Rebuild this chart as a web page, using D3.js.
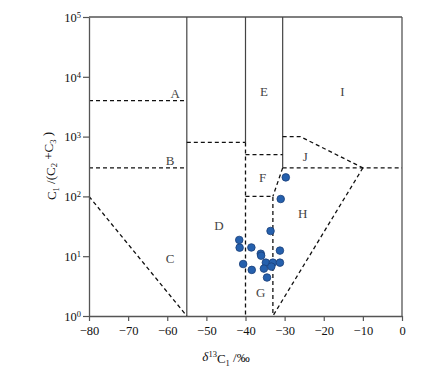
<!DOCTYPE html>
<html><head><meta charset="utf-8">
<script src="https://cdn.jsdelivr.net/npm/d3@7"></script>
<style>body{margin:0;background:#fff}svg{display:block}</style>
</head><body>
<svg id="c" width="425" height="372"></svg>
<script>
const xTicks = [-80,-70,-60,-50,-40,-30,-20,-10,0];
const yExps = [0,1,2,3,4,5];
const pointsX = [-29.7,-31.0,-33.6,-41.6,-41.5,-38.5,-36.1,-36.0,-31.2,-40.6,-38.4,-34.8,-33.0,-31.2,-35.3,-33.4,-34.5];
const pointsY = [208,90.5,26.4,18.7,13.9,14.0,11.0,10.2,12.4,7.4,5.9,7.8,7.8,7.8,6.2,6.7,4.4];
const solidLines = [
  [[-55,1e5],[-55,1]],
  [[-40,1e5],[-40,800]],
  [[-30.5,1e5],[-30.5,300]]
];
const dashedLines = [
  [[-80,4000],[-55,4000]],
  [[-80,300],[-55,300]],
  [[-80,100],[-55,1]],
  [[-55,800],[-40,800]],
  [[-40,800],[-40,1]],
  [[-40,500],[-30.5,500]],
  [[-40,100],[-33,100],[-33,1]],
  [[-30.5,300],[-33,100]],
  [[-30.5,1000],[-26,1000],[-10,300]],
  [[-30.5,300],[0,300]],
  [[-10,300],[-33,1]]
];
const regionNames = ["A","B","C","D","E","F","G","H","I","J"];
const regionX = [-58,-59.3,-59.3,-46.8,-35.3,-35.6,-36.1,-25.4,-15.2,-24.7];
const regionY = [5360,406,9.3,33,5790,211,2.43,52.7,5790,461];

const svg = d3.select("#c");
const L=89,R=402,T=17,B=316;
const x = d3.scaleLinear().domain([-80,0]).range([L,R]);
const y = d3.scaleLog().domain([1,1e5]).range([B,T]);
const axisColor="#555";
const serif="'Liberation Serif','Times New Roman',serif";

// frame top/right
svg.append("line").attr("x1",L).attr("x2",R).attr("y1",T).attr("y2",T).attr("stroke",axisColor).attr("stroke-width",1.3);
svg.append("line").attr("x1",R).attr("x2",R).attr("y1",T).attr("y2",B).attr("stroke",axisColor).attr("stroke-width",1.3);

const line = d3.line().x(d=>x(d[0])).y(d=>y(d[1]));
svg.append("g").selectAll("path").data(solidLines).join("path")
  .attr("d",line).attr("fill","none").attr("stroke","#444").attr("stroke-width",1.2);
svg.append("g").selectAll("path").data(dashedLines).join("path")
  .attr("d",line).attr("fill","none").attr("stroke","#111").attr("stroke-width",1.3)
  .attr("stroke-dasharray","4,3");

// axes
const xAxis = svg.append("g").attr("transform",`translate(0,${B})`)
  .call(d3.axisBottom(x).tickValues(xTicks).tickSize(5).tickSizeOuter(0).tickFormat(d=>d===0?"0":"\u2212"+Math.abs(d)));
xAxis.select(".domain").attr("stroke",axisColor).attr("stroke-width",1.3);
xAxis.selectAll(".tick line").attr("stroke",axisColor).attr("stroke-width",1.2);
xAxis.selectAll(".tick text").attr("font-family",serif).attr("font-size",12.5).attr("fill","#111").attr("dy","0.9em");

const yAxis = svg.append("g").attr("transform",`translate(${L},0)`)
  .call(d3.axisLeft(y).tickValues(yExps.map(e=>Math.pow(10,e))).tickSize(6).tickSizeOuter(0).tickFormat(""));
yAxis.select(".domain").attr("stroke",axisColor).attr("stroke-width",1.3);
yAxis.selectAll(".tick line").attr("stroke",axisColor).attr("stroke-width",1.2);
yAxis.selectAll(".tick").each(function(d,i){
  const t=d3.select(this).append("text").attr("x",-8).attr("dy","0.35em")
    .attr("text-anchor","end").attr("font-family",serif).attr("font-size",12.5).attr("fill","#111");
  t.append("tspan").text("10");
  t.append("tspan").attr("dy","-0.45em").attr("font-size",8.5).text(yExps[i]);
});

// region labels
svg.append("g").selectAll("text").data(regionNames).join("text")
  .attr("x",(d,i)=>x(regionX[i])).attr("y",(d,i)=>y(regionY[i])).attr("dy","0.35em")
  .attr("text-anchor","middle").attr("font-family",serif).attr("font-size",13).attr("fill","#444")
  .text(d=>d);

// points
svg.append("g").selectAll("circle").data(pointsX).join("circle")
  .attr("cx",d=>x(d)).attr("cy",(d,i)=>y(pointsY[i])).attr("r",3.8)
  .attr("fill","#2560ad").attr("stroke","#1b3f78").attr("stroke-width",0.8);

// x label
const xl = svg.append("text").attr("x",226).attr("y",361).attr("text-anchor","middle")
  .attr("font-family",serif).attr("font-size",13).attr("fill","#111");
xl.append("tspan").attr("font-style","italic").text("\u03b4");
xl.append("tspan").attr("dy","-0.45em").attr("font-size",8.5).text("13");
xl.append("tspan").attr("dy","0.45em").text("C");
xl.append("tspan").attr("dy","0.3em").attr("font-size",8.5).text("1");
xl.append("tspan").attr("dy","-0.3em").text(" /\u2030");

// y label
const yl = svg.append("text").attr("transform","translate(56,166) rotate(-90)").attr("text-anchor","middle")
  .attr("font-family",serif).attr("font-size",13).attr("fill","#111");
yl.append("tspan").text("C");
yl.append("tspan").attr("dy","0.3em").attr("font-size",8.5).text("1");
yl.append("tspan").attr("dy","-0.3em").text(" /(C");
yl.append("tspan").attr("dy","0.3em").attr("font-size",8.5).text("2");
yl.append("tspan").attr("dy","-0.3em").text(" +C");
yl.append("tspan").attr("dy","0.3em").attr("font-size",8.5).text("3");
yl.append("tspan").attr("dy","-0.3em").text(" )");
</script>
</body></html>
